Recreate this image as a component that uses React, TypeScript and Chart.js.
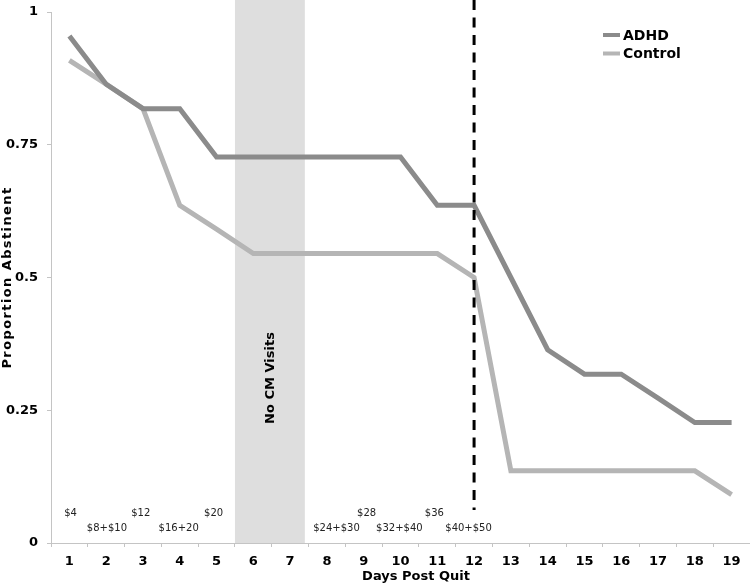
import { useEffect, useRef } from "react";
import { Chart, registerables } from "chart.js";

Chart.register(...registerables);

const days = ["1", "2", "3", "4", "5", "6", "7", "8", "9", "10", "11", "12", "13", "14", "15", "16", "17", "18", "19"];
const adhd = [0.955, 0.864, 0.818, 0.818, 0.727, 0.727, 0.727, 0.727, 0.727, 0.727, 0.636, 0.636, 0.5, 0.364, 0.318, 0.318, 0.273, 0.227, 0.227];
const control = [0.909, 0.864, 0.818, 0.636, 0.591, 0.545, 0.545, 0.545, 0.545, 0.545, 0.545, 0.5, 0.136, 0.136, 0.136, 0.136, 0.136, 0.136, 0.091];

const yTicks = [0, 0.25, 0.5, 0.75, 1];

const payLabels = ["$4", "$8+$10", "$12", "$16+20", "$20", "$24+$30", "$28", "$32+$40", "$36", "$40+$50"];
const payDays = [1.03, 2.02, 2.94, 3.97, 4.92, 8.26, 9.08, 9.97, 10.92, 11.85];
const payLevels = [0.056, 0.028, 0.056, 0.028, 0.056, 0.028, 0.056, 0.028, 0.056, 0.028];

const noVisitStart = 5.5;
const noVisitEnd = 7.4;
const noVisitLabel = "No CM Visits";
const cutoffDay = 12;
const cutoffBottom = 0.062;

const FONT = "'DejaVu Sans', Verdana, sans-serif";
const ADHD_COLOR = "#8b8b8b";
const CONTROL_COLOR = "#b5b5b5";
const AXIS_COLOR = "#c4c4c4";

const overlayPlugin = {
  id: "overlay",
  beforeDatasetsDraw(chart: any) {
    const { ctx, chartArea, scales } = chart;
    const x = scales.x;
    const x0 = x.getPixelForValue(noVisitStart - 1);
    const x1 = x.getPixelForValue(noVisitEnd - 1);
    ctx.save();
    ctx.fillStyle = "#dedede";
    ctx.fillRect(x0, 0, x1 - x0, chartArea.bottom);
    ctx.translate((x0 + x1) / 2 + 1, 378);
    ctx.rotate(-Math.PI / 2);
    ctx.fillStyle = "#000";
    ctx.font = `bold 13px ${FONT}`;
    ctx.textAlign = "center";
    ctx.textBaseline = "middle";
    ctx.fillText(noVisitLabel, 0, 0);
    ctx.restore();
  },
  afterDatasetsDraw(chart: any) {
    const { ctx, chartArea, scales } = chart;
    const x = scales.x;
    const y = scales.y;
    ctx.save();
    // dashed cutoff line
    const cx = x.getPixelForValue(cutoffDay - 1);
    ctx.strokeStyle = "#000";
    ctx.lineWidth = 3;
    ctx.setLineDash([10, 7.5]);
    ctx.beginPath();
    ctx.moveTo(cx, 0);
    ctx.lineTo(cx, y.getPixelForValue(cutoffBottom));
    ctx.stroke();
    ctx.setLineDash([]);

    // payment annotations
    ctx.fillStyle = "#222";
    ctx.font = `10px ${FONT}`;
    ctx.textAlign = "center";
    ctx.textBaseline = "middle";
    payLabels.forEach((t, i) => {
      ctx.fillText(t, x.getPixelForValue(payDays[i] - 1), y.getPixelForValue(payLevels[i]));
    });

    // legend
    const items = chart.data.datasets;
    items.forEach((ds: any, i: number) => {
      const ly = 35 + i * 18.5;
      ctx.strokeStyle = ds.borderColor;
      ctx.lineWidth = 4;
      ctx.beginPath();
      ctx.moveTo(603, ly);
      ctx.lineTo(620, ly);
      ctx.stroke();
      ctx.fillStyle = "#000";
      ctx.font = `bold 14px ${FONT}`;
      ctx.textAlign = "left";
      ctx.textBaseline = "middle";
      ctx.fillText(ds.label, 623, ly + 1);
    });

    // axis titles
    ctx.fillStyle = "#000";
    ctx.font = `bold 13px ${FONT}`;
    ctx.textAlign = "center";
    ctx.textBaseline = "middle";
    ctx.fillText("Days Post Quit", 416, 577);
    ctx.save();
    ctx.translate(8, (chartArea.top + chartArea.bottom) / 2);
    ctx.rotate(-Math.PI / 2);
    (ctx as any).letterSpacing = "1.4px";
    ctx.fillText("Proportion Abstinent", 0, 0);
    ctx.restore();
    ctx.restore();
  },
};

export default function App() {
  const ref = useRef<HTMLCanvasElement | null>(null);
  useEffect(() => {
    if (!ref.current) return;
    const chart = new Chart(ref.current, {
      type: "line",
      data: {
        labels: days,
        datasets: [
          {
            label: "ADHD",
            data: adhd,
            borderColor: ADHD_COLOR,
            backgroundColor: ADHD_COLOR,
            borderWidth: 5,
            pointRadius: 0,
            tension: 0,
          },
          {
            label: "Control",
            data: control,
            borderColor: CONTROL_COLOR,
            backgroundColor: CONTROL_COLOR,
            borderWidth: 5,
            pointRadius: 0,
            tension: 0,
          },
        ],
      },
      options: {
        animation: false,
        responsive: true,
        maintainAspectRatio: false,
        layout: { padding: { top: 12, left: 0, right: 0, bottom: 0 } },
        plugins: {
          legend: { display: false },
          tooltip: { enabled: false },
        },
        scales: {
          x: {
            type: "category",
            offset: true,
            grid: {
              offset: true,
              drawOnChartArea: false,
              drawTicks: true,
              tickLength: 4,
              color: AXIS_COLOR,
            },
            border: { color: AXIS_COLOR, width: 1 },
            ticks: {
              color: "#000",
              padding: 7,
              maxRotation: 0,
              autoSkip: false,
              font: { family: FONT, size: 13, weight: "bold" },
            },
            afterFit: (s: any) => {
              s.height = 42;
            },
          },
          y: {
            min: 0,
            max: 1,
            afterBuildTicks: (s: any) => {
              s.ticks = yTicks.map((v) => ({ value: v }));
            },
            grid: {
              drawOnChartArea: false,
              drawTicks: true,
              tickLength: 4,
              color: AXIS_COLOR,
            },
            border: { color: AXIS_COLOR, width: 1 },
            ticks: {
              color: "#000",
              padding: 9,
              font: { family: FONT, size: 13, weight: "bold", lineHeight: 0.8 },
              callback: (v: any) => String(v),
            },
            afterFit: (s: any) => {
              s.width = 51;
              s.paddingTop = 0;
              s.paddingBottom = 0;
            },
          },
        },
      },
      plugins: [overlayPlugin],
    });
    return () => chart.destroy();
  }, []);
  return (
    <div style={{ position: "absolute", left: 0, top: 0, width: 750, height: 585, background: "#fff" }}>
      <canvas ref={ref} />
    </div>
  );
}
